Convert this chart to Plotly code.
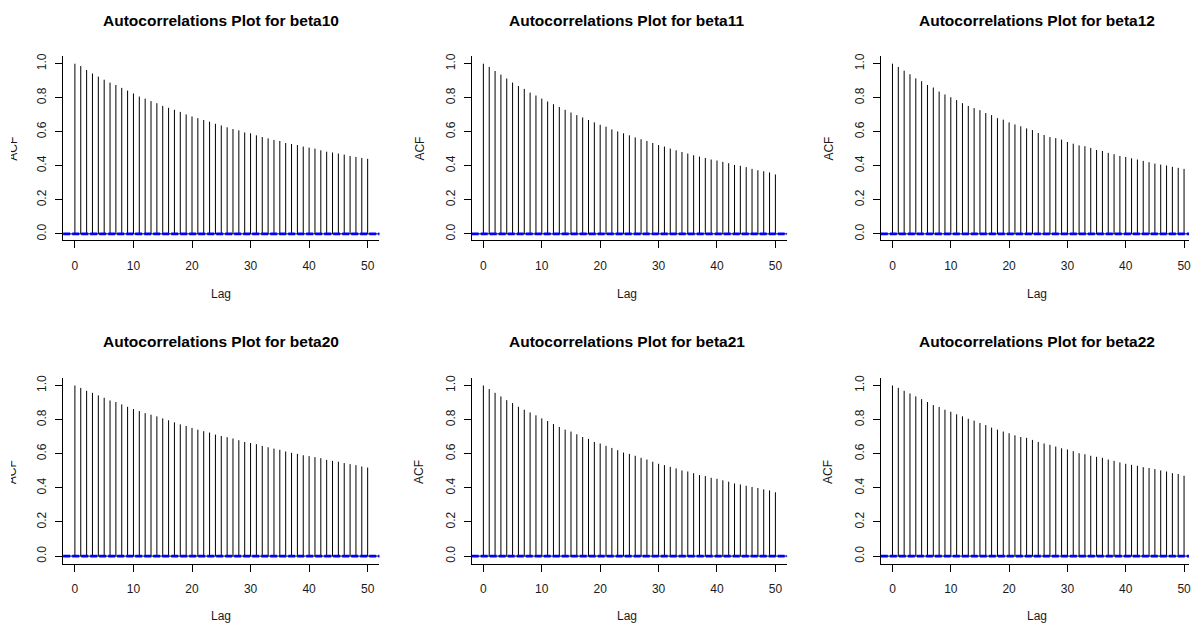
import plotly.graph_objects as go

W, H = 1191, 625

lags = list(range(51))
panel_names = ["beta10", "beta11", "beta12", "beta20", "beta21", "beta22"]

acf_beta10 = [1.000, 0.986, 0.963, 0.942, 0.924, 0.906, 0.889, 0.875, 0.858, 0.842,
              0.825, 0.807, 0.795, 0.780, 0.768, 0.752, 0.741, 0.729, 0.717, 0.702,
              0.690, 0.680, 0.669, 0.659, 0.647, 0.637, 0.626, 0.616, 0.608, 0.596,
              0.591, 0.579, 0.569, 0.561, 0.552, 0.546, 0.534, 0.528, 0.522, 0.513,
              0.507, 0.501, 0.491, 0.483, 0.478, 0.472, 0.466, 0.458, 0.452, 0.446,
              0.441]
acf_beta11 = [1.000, 0.981, 0.957, 0.936, 0.913, 0.889, 0.869, 0.852, 0.830, 0.813,
              0.795, 0.778, 0.762, 0.746, 0.729, 0.713, 0.698, 0.684, 0.669, 0.655,
              0.641, 0.630, 0.614, 0.602, 0.591, 0.579, 0.567, 0.556, 0.546, 0.534,
              0.522, 0.513, 0.501, 0.491, 0.481, 0.472, 0.462, 0.454, 0.446, 0.437,
              0.431, 0.423, 0.415, 0.405, 0.400, 0.392, 0.382, 0.374, 0.368, 0.361,
              0.349]
acf_beta12 = [1.000, 0.981, 0.959, 0.938, 0.914, 0.897, 0.875, 0.860, 0.836, 0.819,
              0.803, 0.786, 0.768, 0.752, 0.739, 0.727, 0.710, 0.698, 0.680, 0.671,
              0.655, 0.643, 0.632, 0.620, 0.610, 0.593, 0.581, 0.569, 0.563, 0.554,
              0.540, 0.530, 0.520, 0.515, 0.505, 0.493, 0.487, 0.476, 0.468, 0.458,
              0.452, 0.444, 0.437, 0.429, 0.421, 0.413, 0.407, 0.402, 0.394, 0.388,
              0.382]
acf_beta20 = [1.000, 0.986, 0.969, 0.957, 0.942, 0.928, 0.912, 0.903, 0.889, 0.875,
              0.862, 0.850, 0.838, 0.829, 0.819, 0.807, 0.796, 0.784, 0.772, 0.763,
              0.751, 0.741, 0.732, 0.724, 0.712, 0.704, 0.697, 0.689, 0.679, 0.669,
              0.663, 0.656, 0.646, 0.638, 0.630, 0.623, 0.613, 0.605, 0.599, 0.591,
              0.586, 0.580, 0.574, 0.564, 0.558, 0.553, 0.545, 0.539, 0.533, 0.525,
              0.519]
acf_beta21 = [1.000, 0.979, 0.957, 0.936, 0.914, 0.897, 0.875, 0.858, 0.842, 0.825,
              0.807, 0.792, 0.774, 0.757, 0.741, 0.730, 0.714, 0.698, 0.687, 0.669,
              0.660, 0.646, 0.634, 0.621, 0.607, 0.599, 0.588, 0.576, 0.566, 0.553,
              0.541, 0.533, 0.523, 0.514, 0.502, 0.496, 0.486, 0.475, 0.469, 0.459,
              0.453, 0.444, 0.436, 0.426, 0.420, 0.412, 0.405, 0.399, 0.391, 0.385,
              0.374]
acf_beta22 = [1.000, 0.986, 0.969, 0.953, 0.936, 0.920, 0.903, 0.885, 0.874, 0.858,
              0.846, 0.831, 0.819, 0.805, 0.794, 0.780, 0.768, 0.753, 0.741, 0.730,
              0.720, 0.708, 0.698, 0.693, 0.681, 0.669, 0.660, 0.652, 0.642, 0.632,
              0.625, 0.615, 0.603, 0.597, 0.588, 0.582, 0.576, 0.566, 0.558, 0.549,
              0.541, 0.535, 0.529, 0.521, 0.516, 0.510, 0.502, 0.496, 0.486, 0.481,
              0.471]

acf_series = [acf_beta10, acf_beta11, acf_beta12, acf_beta20, acf_beta21, acf_beta22]
ci_bound = 0.0035

x_tick_vals = [0, 10, 20, 30, 40, 50]
y_tick_vals = [0.0, 0.2, 0.4, 0.6, 0.8, 1.0]
y_tick_text = ["0.0", "0.2", "0.4", "0.6", "0.8", "1.0"]

# ---- geometry in pixels ----
col_left = [63.3, 472.5, 882.3]
col_right = [380.0, 788.4, 1191.0]
col_xrange = [[-2, 52], [-2, 52], [-2, 50.85]]
title_cx = [221.7, 628.3, 1038.3]
acf_cx = [12.8, 420.3, 830.0]
row_top = [53.3, 377.3]
row_bot = [238.3, 563.3]
row_yrange = [[-0.037, 1.045], [-0.044, 1.041]]
title_cy = [17.5, 340.5]
lag_cy = [292.5, 616.0]
acf_cy = [146.7, 471.7]

FONT = "Liberation Sans, Arial, sans-serif"
TXT = "#1a1a1a"


def fx(p):
    return p / W


def fy(p):
    return 1 - p / H


fig = go.Figure()
annotations = []
shapes = []
layout_axes = {}

for i, (name, vals) in enumerate(zip(panel_names, acf_series)):
    r, c = divmod(i, 3)
    n = i + 1
    sfx = "" if n == 1 else str(n)
    xs, ys = [], []
    for lag, v in zip(lags, vals):
        xs += [lag, lag, None]
        ys += [0, v, None]
    fig.add_trace(go.Scatter(x=xs, y=ys, mode="lines",
                             line=dict(color="black", width=1),
                             hoverinfo="skip", showlegend=False,
                             xaxis=f"x{sfx}", yaxis=f"y{sfx}"))
    # zero line
    shapes.append(dict(type="line", xref=f"x{sfx} domain", yref=f"y{sfx}",
                       x0=0, x1=1, y0=0, y1=0,
                       line=dict(color="black", width=1)))
    # confidence bounds
    for b in (ci_bound, -ci_bound):
        shapes.append(dict(type="line", xref=f"x{sfx} domain", yref=f"y{sfx}",
                           x0=0, x1=1, y0=b, y1=b,
                           line=dict(color="#0000ff", width=1.5, dash="7px,2px")))

    common = dict(showgrid=False, zeroline=False, showline=True,
                  linecolor="black", linewidth=1, ticks="outside",
                  ticklen=7, tickwidth=1, tickcolor="black",
                  tickfont=dict(family=FONT, size=12, color=TXT),
                  fixedrange=True, ticklabeloverflow="allow")
    layout_axes[f"xaxis{sfx}"] = dict(
        domain=[fx(col_left[c]), fx(col_right[c])], range=col_xrange[c],
        tickvals=x_tick_vals, anchor=f"y{sfx}", ticklabelstandoff=7, **common)
    layout_axes[f"yaxis{sfx}"] = dict(
        domain=[fy(row_bot[r]), fy(row_top[r])], range=row_yrange[r],
        tickvals=y_tick_vals, ticktext=y_tick_text, tickangle=-90,
        anchor=f"x{sfx}", ticklabelstandoff=4, **common)

    annotations.append(dict(text=f"<b>Autocorrelations Plot for {name}</b>",
                            x=fx(title_cx[c]), y=fy(title_cy[r]),
                            xref="paper", yref="paper", showarrow=False,
                            xanchor="center", yanchor="middle",
                            font=dict(family=FONT, size=15.5, color="black")))
    annotations.append(dict(text="Lag", x=fx(title_cx[c]), y=fy(lag_cy[r]),
                            xref="paper", yref="paper", showarrow=False,
                            xanchor="center", yanchor="middle",
                            font=dict(family=FONT, size=12, color=TXT)))
    annotations.append(dict(text="ACF", x=fx(acf_cx[c]), y=fy(acf_cy[r]),
                            xref="paper", yref="paper", showarrow=False,
                            xanchor="center", yanchor="middle", textangle=-90,
                            font=dict(family=FONT, size=12, color=TXT)))

# white covers that clip the left-most ACF labels, as in the reference
for r in range(2):
    annotations.append(dict(text=" ", x=0, y=fy(acf_cy[r]), xref="paper",
                            yref="paper", showarrow=False, xanchor="left",
                            yanchor="middle", width=11, height=34,
                            bgcolor="white", borderwidth=0, borderpad=0))

fig.update_layout(width=W, height=H, margin=dict(l=0, r=0, t=0, b=0),
                  paper_bgcolor="white", plot_bgcolor="white",
                  showlegend=False, annotations=annotations, shapes=shapes,
                  **layout_axes)

fig.write_html("out.html",
               config={"displayModeBar": False, "staticPlot": True},
               post_script="document.body.style.margin='0';"
                           "document.body.style.overflow='hidden';")
